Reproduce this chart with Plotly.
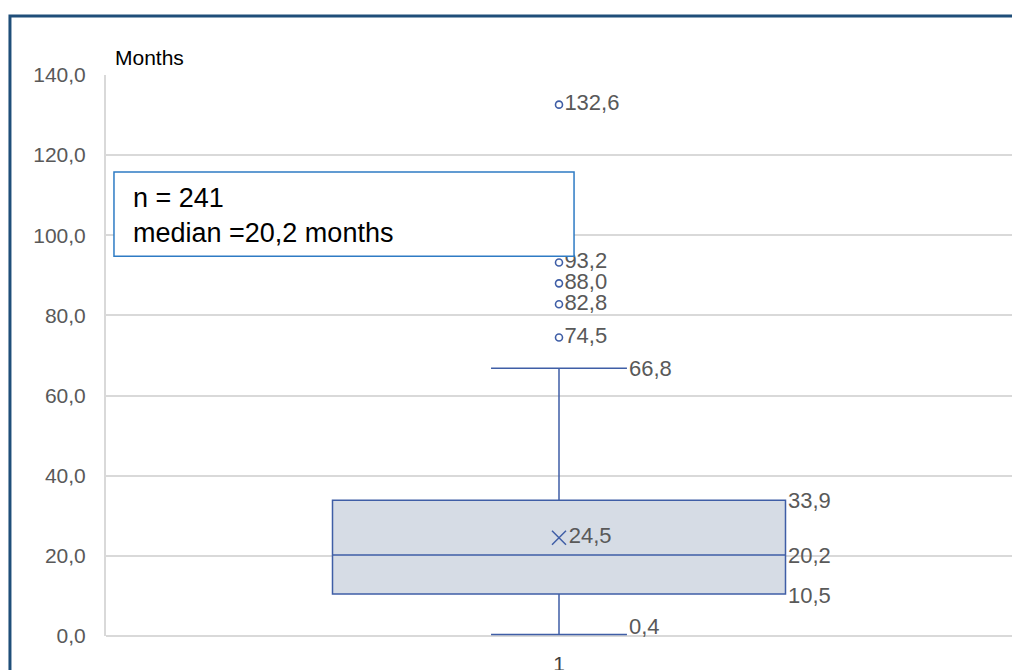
import plotly.graph_objects as go

# ---- data ----
category = [1]
q1 = [10.5]
median = [20.2]
q3 = [33.9]
lower_fence = [0.4]
upper_fence = [66.8]
mean = [24.5]
outliers = [74.5, 82.8, 88.0, 93.2, 132.6]
n_obs = 241
y_ticks = [0, 20, 40, 60, 80, 100, 120, 140]

BOX_WIDTH = 1.0
WHISKER_W = 0.3
LINE = "#3f5ea6"
FILL = "#d6dce5"
LABEL = "#595959"
FONT = "Liberation Sans, Arial, Helvetica, sans-serif"

def fmt(v):
    return f"{v:.1f}".replace(".", ",")

fig = go.Figure()

fig.add_trace(go.Box(
    x=category, q1=q1, median=median, q3=q3,
    lowerfence=lower_fence, upperfence=upper_fence,
    width=BOX_WIDTH, whiskerwidth=WHISKER_W,
    fillcolor=FILL, line=dict(color=LINE, width=1.5),
    boxpoints=False, showlegend=False, hoverinfo="skip",
))

# outliers
fig.add_trace(go.Scatter(
    x=category * len(outliers), y=outliers, mode="markers+text",
    marker=dict(symbol="circle-open", size=7, color=LINE, line=dict(width=1.6)),
    text=[fmt(v) for v in outliers], textposition="middle right",
    textfont=dict(family=FONT, size=22, color=LABEL),
    showlegend=False, hoverinfo="skip", cliponaxis=False,
))

# mean marker
fig.add_trace(go.Scatter(
    x=category, y=mean, mode="markers+text",
    marker=dict(symbol="x-thin-open", size=14, color=LINE, line=dict(width=1.5, color=LINE)),
    text=[fmt(v) for v in mean], textposition="middle right",
    textfont=dict(family=FONT, size=22, color=LABEL),
    showlegend=False, hoverinfo="skip",
))

# stats labels
c = category[0]
box_right = c + BOX_WIDTH / 2
cap_right = c + BOX_WIDTH * WHISKER_W / 2
label_specs = [
    (box_right, q3[0], 0),
    (box_right, median[0], 0),
    (box_right, q1[0], -2),
    (cap_right, upper_fence[0], 0),
    (cap_right, lower_fence[0], 8),
]
for xv, yv, ys in label_specs:
    fig.add_annotation(x=xv, y=yv, xref="x", yref="y", text=fmt(yv),
                       showarrow=False, xanchor="left", yanchor="middle",
                       xshift=0, yshift=ys,
                       font=dict(family=FONT, size=22, color=LABEL))

# info box
fig.add_shape(type="rect", xref="paper", yref="paper",
              x0=0.0088, x1=0.5166, y0=0.677, y1=0.827,
              line=dict(color="#2e7bc4", width=1.5), fillcolor="white", layer="above")
fig.add_annotation(xref="paper", yref="paper", x=0.0276, y=0.7496,
                   xanchor="left", yanchor="middle", align="left", showarrow=False,
                   text=f"n = {n_obs}<br>median ={fmt(median[0])} months",
                   font=dict(family=FONT, size=27, color="black"))

# axis title "Months"
fig.add_annotation(xref="paper", yref="paper", x=0.0077, y=1.032,
                   xanchor="left", yanchor="middle", showarrow=False,
                   text="Months", font=dict(family=FONT, size=21, color="black"))

# outer frame (top and left edges visible)
fig.add_shape(type="path", xref="paper", yref="paper",
              path="M -0.106 -0.1 L -0.106 1.105 L 1.03 1.105",
              line=dict(color="#1f4e79", width=3))

fig.update_layout(
    width=1012, height=662,
    margin=dict(l=98, r=8, t=67, b=34, autoexpand=False),
    paper_bgcolor="white", plot_bgcolor="white",
    separators=", ",
    font=dict(family=FONT, size=21, color=LABEL),
    xaxis=dict(range=[0, 2], tickvals=category, ticktext=[str(v) for v in category],
               showgrid=False, zeroline=False, showline=False, ticks="",
               automargin=False,
               ticklabelstandoff=13, tickfont=dict(size=21, color="#404040")),
    yaxis=dict(range=[0, 140], tickvals=y_ticks, tickformat=".1f",
               automargin=False,
               showgrid=True, gridcolor="#d9d9d9", gridwidth=2,
               zeroline=True, zerolinecolor="#d9d9d9", zerolinewidth=2,
               showline=True, linecolor="#d9d9d9", linewidth=2,
               ticks="", ticklabelstandoff=14, tickfont=dict(size=21, color=LABEL)),
)

fig.write_html("out.html")
